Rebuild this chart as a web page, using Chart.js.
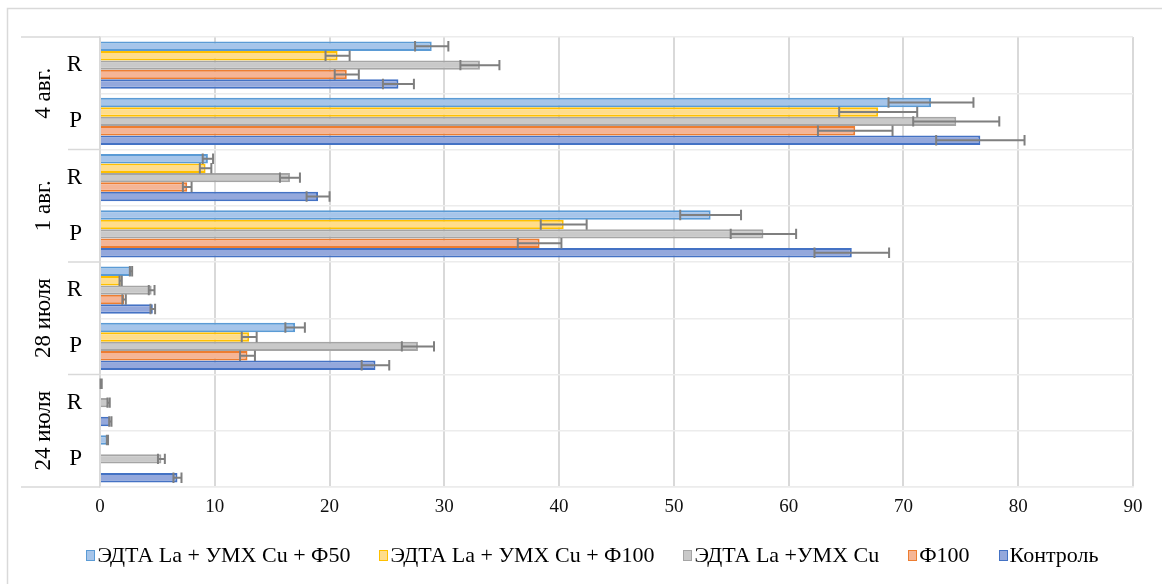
<!DOCTYPE html>
<html>
<head>
<meta charset="utf-8">
<script src="https://cdn.jsdelivr.net/npm/chart.js@4.4.1/dist/chart.umd.min.js"></script>
<style>
html, body { margin: 0; padding: 0; background: #fff; }
.wrap { position: relative; width: 1162px; height: 584px; overflow: hidden; }
canvas { display: block; }
.legend {
    position: absolute; left: 0; top: 543px; width: 1185px;
    display: flex; justify-content: center; gap: 29px;
    font-family: 'Liberation Serif', 'Times New Roman', serif; font-size: 22px; line-height: 24px; color: #000;
}
.legend .item { display: flex; align-items: center; white-space: nowrap; }
.legend .box { width: 7px; height: 9px; border: 1px solid; margin-right: 2px; }
</style>
</head>
<body>
<div class="wrap">
<canvas id="chart" width="1162" height="584"></canvas>
<div class="legend" id="legend"></div>
</div>
<script>
// categories top to bottom
var categories = ['R', 'P', 'R', 'P', 'R', 'P', 'R', 'P'];
var groups = ['4 авг.', '1 авг.', '28 июля', '24 июля'];
var xTicks = [0, 10, 20, 30, 40, 50, 60, 70, 80, 90];

var seriesNames = ['ЭДТА La + УМХ Cu + Ф50', 'ЭДТА La + УМХ Cu + Ф100', 'ЭДТА La +УМХ Cu', 'Ф100', 'Контроль'];

var f50 = [28.9, 72.4, 9.4, 53.2, 2.7, 17.0, 0.1, 0.65];
var f50Err = [1.45, 3.7, 0.45, 2.65, 0.1, 0.85, 0.05, 0.05];

var f100 = [20.7, 67.8, 9.2, 40.4, 1.8, 13.0, 0, 0];
var f100Err = [1.05, 3.4, 0.5, 2.0, 0.1, 0.65, 0, 0];

var edta = [33.1, 74.6, 16.55, 57.8, 4.5, 27.7, 0.75, 5.35];
var edtaErr = [1.7, 3.75, 0.87, 2.85, 0.25, 1.4, 0.1, 0.3];

var phi100 = [21.5, 65.8, 7.6, 38.3, 2.1, 12.85, 0, 0];
var phi100Err = [1.05, 3.25, 0.38, 1.9, 0.15, 0.65, 0, 0];

var control = [26.0, 76.7, 19.0, 65.5, 4.6, 24.0, 0.9, 6.75];
var controlErr = [1.35, 3.85, 1.0, 3.25, 0.2, 1.2, 0.1, 0.35];

var fills = ['#a6c5ea', '#ffdd8c', '#c9c9c9', '#f5b596', '#94a8dc'];
var borders = ['#5b9bd5', '#ffc000', '#a5a5a5', '#ed7d31', '#4472c4'];

var values = [f50, f100, edta, phi100, control];
var errors = [f50Err, f100Err, edtaErr, phi100Err, controlErr];

var serif = "'Liberation Serif', 'Times New Roman', serif";

var datasets = [];
for (var i = 0; i < seriesNames.length; i++) {
    datasets.push({
        label: seriesNames[i],
        data: values[i],
        errors: errors[i],
        backgroundColor: fills[i],
        borderColor: borders[i],
        borderWidth: 2,
        categoryPercentage: 0.84,
        barPercentage: 1.0
    });
}

// legend as html, same order as datasets
var legend = document.getElementById('legend');
for (var n = 0; n < seriesNames.length; n++) {
    var item = document.createElement('span');
    item.className = 'item';
    var box = document.createElement('span');
    box.className = 'box';
    box.style.background = fills[n];
    box.style.borderColor = borders[n];
    item.appendChild(box);
    item.appendChild(document.createTextNode(seriesNames[n]));
    legend.appendChild(item);
}

var framePlugin = {
    id: 'frame',
    beforeDraw: function (chart) {
        var c = chart.ctx;
        c.save();
        c.strokeStyle = '#d9d9d9';
        c.lineWidth = 1.5;
        c.beginPath();
        c.moveTo(7.5, 584);
        c.lineTo(7.5, 8.5);
        c.lineTo(1162, 8.5);
        c.stroke();
        c.restore();
    }
};

var groupLabels = {
    id: 'groupLabels',
    afterDraw: function (chart) {
        var y = chart.scales.y;
        var c = chart.ctx;
        c.save();
        c.strokeStyle = '#d9d9d9';
        c.lineWidth = 1.5;
        c.beginPath();
        c.moveTo(21, y.top);
        c.lineTo(100, y.top);
        c.moveTo(21, y.bottom);
        c.lineTo(100, y.bottom);
        for (var g = 1; g < groups.length; g++) {
            var b = (y.getPixelForValue(g * 2 - 1) + y.getPixelForValue(g * 2)) / 2;
            c.moveTo(68, b);
            c.lineTo(100, b);
        }
        c.stroke();

        c.fillStyle = '#000';
        c.font = '23px ' + serif;
        c.textAlign = 'center';
        c.textBaseline = 'middle';
        for (var k = 0; k < groups.length; k++) {
            var cy = (y.getPixelForValue(k * 2) + y.getPixelForValue(k * 2 + 1)) / 2;
            c.save();
            c.translate(44, cy);
            c.rotate(-Math.PI / 2);
            c.fillText(groups[k], 0, 0);
            c.restore();
        }
        c.restore();
    }
};

var errorBars = {
    id: 'errorBars',
    afterDatasetsDraw: function (chart) {
        var x = chart.scales.x;
        var c = chart.ctx;
        c.save();
        c.strokeStyle = '#7f7f7f';
        c.lineWidth = 2;
        chart.data.datasets.forEach(function (ds, i) {
            var meta = chart.getDatasetMeta(i);
            meta.data.forEach(function (bar, j) {
                var v = ds.data[j];
                var e = ds.errors[j];
                if (!v && !e) return;
                var x0 = x.getPixelForValue(v - e);
                var x1 = x.getPixelForValue(v + e);
                var h = bar.height / 2 + 0.5;
                c.beginPath();
                c.moveTo(x0, bar.y);
                c.lineTo(x1, bar.y);
                c.moveTo(x0, bar.y - h);
                c.lineTo(x0, bar.y + h);
                c.moveTo(x1, bar.y - h);
                c.lineTo(x1, bar.y + h);
                c.stroke();
            });
        });
        c.restore();
    }
};

var ctx = document.getElementById('chart');
var myChart = new Chart(ctx, {
    type: 'bar',
    data: {
        labels: categories,
        datasets: datasets
    },
    options: {
        responsive: false,
        animation: false,
        indexAxis: 'y',
        layout: {
            padding: { left: 52, right: 29, top: 37, bottom: 37 }
        },
        scales: {
            x: {
                min: 0,
                max: 90,
                afterBuildTicks: function (scale) {
                    scale.ticks = xTicks.map(function (v) { return { value: v }; });
                },
                afterFit: function (scale) { scale.height = 60; },
                grid: { color: '#d9d9d9', lineWidth: 2, drawTicks: false },
                border: { color: '#ececec', width: 1.5 },
                ticks: {
                    padding: 9,
                    color: '#111',
                    font: { family: serif, size: 19 }
                }
            },
            y: {
                afterFit: function (scale) { scale.width = 48; },
                grid: { color: '#ececec', lineWidth: 1.5, drawTicks: false },
                border: { color: '#d9d9d9', width: 1.5 },
                ticks: {
                    padding: 18,
                    color: '#000',
                    font: { family: serif, size: 23 }
                }
            }
        },
        plugins: {
            legend: { display: false },
            tooltip: { enabled: false }
        }
    },
    plugins: [framePlugin, groupLabels, errorBars]
});
</script>
</body>
</html>
